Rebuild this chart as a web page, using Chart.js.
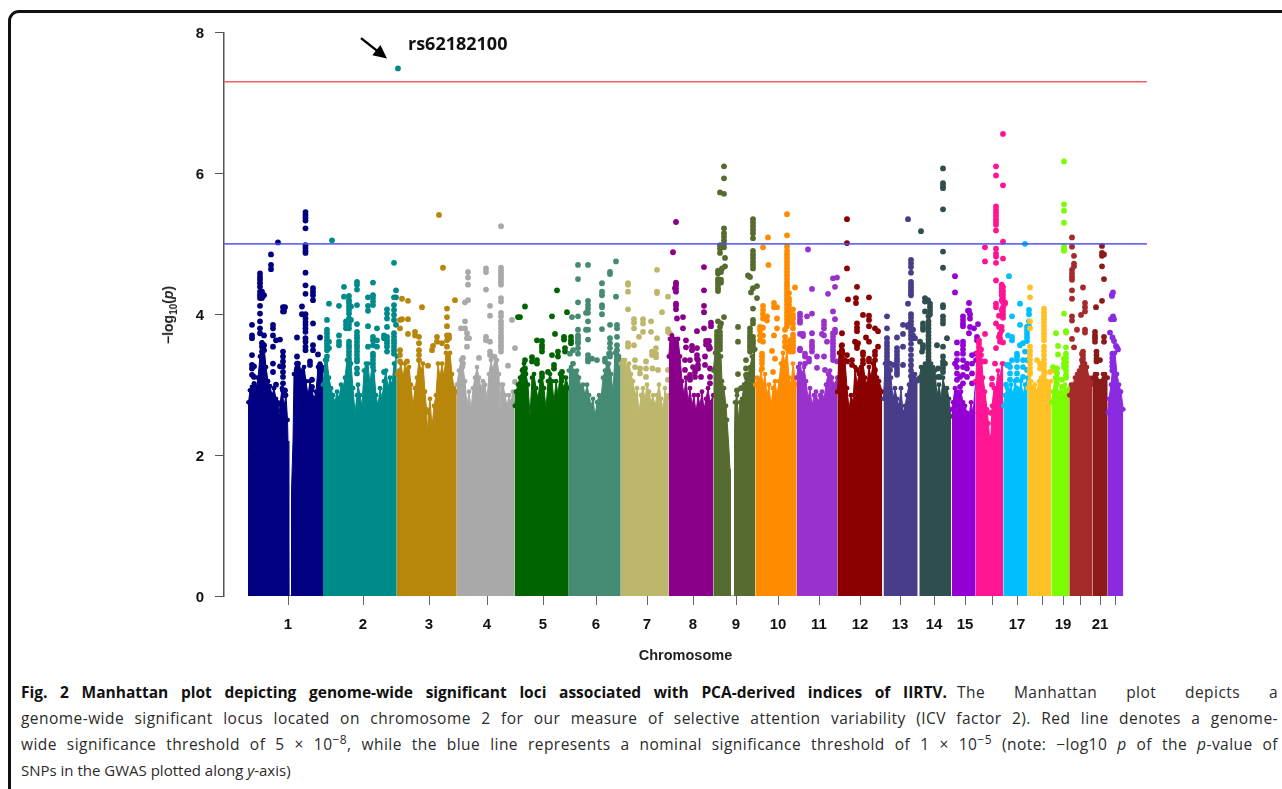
<!DOCTYPE html>
<html lang="en">

<head>
    <meta charset="UTF-8">
    <title>Manhattan plot</title>
    <style>
        html,
        body {
            margin: 0;
            width: 1282px;
            height: 789px;
            overflow: hidden;
            background: #fff;
        }

        #frame {
            position: absolute;
            left: 8px;
            top: 10px;
            width: 1320px;
            height: 860px;
            border: 3px solid #111;
            border-radius: 11px;
        }

        #canvas {
            position: absolute;
            left: 0;
            top: 0;
        }

        #ytitle {
            position: absolute;
            left: 168px;
            top: 315px;
            transform: translate(-50%, -50%) rotate(-90deg);
            font: bold 14px "Liberation Sans";
            color: #222;
            white-space: nowrap;
        }

        #ytitle sub {
            font-size: 10px;
            line-height: 0;
        }

        .cap {
            position: absolute;
            left: 21px;
            width: 1257px;
            font: 15.5px/20px "Open Sans";
            letter-spacing: 0.45px;
            color: #2b2b2b;
            white-space: nowrap;
            text-align: justify;
            text-align-last: justify;
        }

        .cap b {
            color: #111;
            letter-spacing: 0;
        }

        .cap sup {
            font-size: 12px;
            line-height: 0;
        }
    </style>
</head>

<body>
    <div id="frame"></div>
    <canvas id="canvas" width="1282" height="665"></canvas>
    <div id="ytitle">&minus;log<sub>10</sub>(<i>p</i>)</div>
    <div class="cap" style="top:682px;width:926px"><b>Fig. 2 Manhattan plot depicting genome-wide significant loci associated with PCA-derived indices of IIRTV.</b></div>
    <div class="cap" style="top:682px;left:957px;width:321px">The Manhattan plot depicts a</div>
    <div class="cap" style="top:708px">genome-wide significant locus located on chromosome 2 for our measure of selective attention variability (ICV factor 2). Red line denotes a genome-</div>
    <div class="cap" style="top:734px">wide significance threshold of 5 &times; 10<sup>&minus;8</sup>, while the blue line represents a nominal significance threshold of 1 &times; 10<sup>&minus;5</sup> (note: &minus;log10 <i>p</i> of the <i>p</i>-value of</div>
    <div class="cap" style="top:760px;text-align-last:left;letter-spacing:0;font-size:15px">SNPs in the GWAS plotted along <i>y</i>-axis)</div>

    <script src="https://cdnjs.cloudflare.com/ajax/libs/Chart.js/4.4.1/chart.umd.js"></script>

    <script>
        const chrColors = ['#000080', '#008B8B', '#B8860B', '#A9A9A9', '#006400', '#458B74', '#BDB76B', '#8B008B', '#556B2F', '#FF8C00', '#9932CC',
            '#8B0000', '#483D8B', '#2F4F4F', '#9400D3', '#FF1493', '#00BFFF', '#FFC125', '#7CFC00', '#A52A2A', '#8B1A1A', '#8A2BE2'];

        const chrTickPos = [288, 363, 429, 487, 543, 596, 647, 693, 736, 778, 819, 860, 900, 934, 965, 992, 1017, 1042, 1063, 1080, 1100, 1115];
        const chrTickLabels = ['1', '2', '3', '4', '5', '6', '7', '8', '9', '10', '11', '12', '13', '14', '15', '', '17', '', '19', '', '21', ''];

        const redLine = 7.3;
        const blueLine = 5;
        const leadSnp = 'rs62182100';
        const arrowFrom = [361, 7.92];
        const arrowTo = [387, 7.63];

        // solid part of each chromosome: x, y, x, y ...
        const chr1Top = [248, 2.0, 248.5, 2.75, 250, 2.92, 252, 2.97, 254, 3.02, 256, 2.95, 258, 3.1, 260, 3.4, 262, 3.6, 264, 3.55, 266, 3.25, 268, 3.05, 270, 2.98, 272, 2.85, 274, 2.95, 276, 2.8, 278, 2.75, 279, 2.55, 280, 2.72, 282, 2.95, 284, 2.7, 286, 2.85, 287.5, 2.5, 288, 2.2, 288.8, 0, 291, 0, 291.5, 1.5, 293, 2.2, 294, 3.15, 296, 3.2, 298, 3.2, 300, 3.05, 302, 3.2, 304, 3.25, 306, 3.05, 308, 2.85, 310, 3.05, 312, 2.92, 314, 2.8, 316, 2.9, 318, 3.25, 320, 3.3, 322, 3.25, 323, 3.2];
        const chr2Top = [323, 3.0, 325, 3.35, 327, 3.35, 329, 3.1, 331, 2.95, 333, 2.85, 335, 2.75, 337, 2.9, 339, 2.8, 341, 3.0, 343, 2.95, 345, 3.1, 347, 3.35, 349, 3.45, 351, 3.3, 353, 2.95, 355, 2.6, 357, 2.85, 358, 3.0, 360, 2.85, 362, 2.7, 364, 3.2, 366, 3.3, 368, 3.3, 370, 3.0, 372, 3.3, 374, 3.2, 376, 2.85, 378, 2.7, 380, 2.95, 382, 2.8, 384, 3.05, 386, 3.2, 388, 2.95, 390, 3.1, 392, 3.0, 394, 3.3, 396.8, 3.4];
        const chr3Top = [396.8, 3.15, 399, 3.2, 401, 3.3, 403, 3.1, 405, 3.3, 407, 3.2, 409, 3.25, 411, 3.0, 413, 2.7, 415, 2.95, 417, 3.1, 419, 3.35, 421, 3.2, 423, 3.3, 425, 2.9, 426.5, 2.65, 427.5, 2.3, 428.5, 2.6, 430, 2.8, 432, 2.4, 434, 2.7, 436, 2.85, 438, 3.3, 440, 3.1, 442, 3.3, 444, 3.1, 446, 3.45, 448, 3.4, 450, 3.45, 452, 3.15, 454, 2.95, 456.8, 2.9];
        const chr4Top = [456.8, 3.0, 459, 3.2, 461, 3.35, 463, 3.25, 465, 3.05, 467, 2.7, 469, 2.9, 471, 2.65, 473, 2.95, 475, 3.1, 477, 3.25, 479, 3.1, 481, 2.95, 483, 3.05, 485, 3.0, 487, 2.8, 489, 3.15, 491, 3.35, 493, 3.2, 495, 3.4, 497, 3.35, 499, 3.15, 500, 2.6, 501, 3.0, 503, 3.0, 505, 2.85, 507, 2.7, 509, 2.85, 511, 2.75, 513, 2.9, 514.8, 2.85];
        const chr5Top = [514.8, 2.7, 516, 2.9, 518, 3.0, 520, 3.1, 522, 3.2, 524, 3.3, 526, 3.15, 528, 3.0, 530, 2.55, 532, 3.1, 534, 3.15, 536, 2.95, 538, 2.8, 540, 3.05, 542, 3.15, 544, 2.95, 546, 2.65, 548, 3.05, 550, 3.15, 552, 3.05, 554, 2.75, 556, 3.05, 558, 2.85, 560, 3.15, 562, 3.05, 564, 2.95, 566, 3.1, 568.8, 2.95];
        const chr6Top = [568.8, 3.2, 571, 3.25, 573, 3.2, 575, 3.15, 577, 3.2, 579, 3.1, 581, 2.95, 583, 3.0, 585, 2.85, 587, 3.0, 589, 2.85, 591, 2.7, 593, 2.8, 595, 2.55, 597, 2.75, 599, 2.85, 601, 2.8, 603, 3.1, 605, 3.2, 607, 3.3, 609, 3.3, 611, 3.15, 613, 2.9, 615, 3.45, 617, 3.5, 619, 3.4, 620.8, 3.35];
        const chr7Top = [620.8, 3.3, 623, 3.35, 625, 3.35, 627, 3.25, 629, 3.3, 631, 3.15, 633, 3.05, 635, 2.85, 637, 2.95, 639, 2.6, 641, 2.85, 643, 2.95, 645, 2.8, 647, 3.0, 649, 2.9, 651, 2.75, 653, 2.85, 655, 2.7, 657, 2.85, 659, 3.0, 661, 2.8, 663, 2.65, 665, 2.95, 667, 2.8, 668.8, 2.85];
        const chr8Top = [668.8, 3.4, 670, 3.65, 672, 3.7, 674, 3.65, 676, 3.6, 678, 3.65, 680, 3.4, 682, 3.05, 684, 2.85, 686, 3.1, 688, 2.75, 690, 2.95, 692, 2.7, 694, 2.85, 696, 2.6, 698, 2.85, 700, 2.7, 702, 2.9, 704, 2.65, 706, 2.8, 708, 2.95, 710, 2.75, 713.3, 2.85];
        const chr9Top = [713.3, 3.2, 715, 3.45, 717, 3.55, 719, 3.5, 721, 3.4, 722, 3.05, 724, 2.95, 726, 2.7, 727, 2.5, 728.5, 2.2, 730, 1.8, 730.5, 0, 734, 0, 734.5, 2.3, 735, 2.75, 737, 2.85, 738.5, 2.5, 740, 2.75, 742, 2.8, 744, 3.0, 746, 3.1, 748, 3.15, 750, 3.25, 752, 3.4, 755.3, 3.5];
        const chr10Top = [755.3, 3.0, 757, 3.1, 759, 3.05, 761, 3.2, 763, 3.0, 765, 3.15, 767, 2.85, 769, 3.0, 771, 2.7, 773, 2.95, 775, 3.05, 777, 2.85, 779, 3.05, 781, 3.3, 783, 3.45, 785, 3.3, 787, 3.5, 789, 3.1, 791, 3.0, 793, 3.3, 795, 3.1, 796.7, 3.0];
        const chr11Top = [796.7, 3.1, 798, 3.25, 800, 3.3, 802, 3.15, 804, 3.25, 806, 3.05, 808, 2.8, 810, 2.95, 812, 2.7, 814, 2.85, 816, 2.9, 818, 2.75, 820, 2.85, 822, 2.9, 824, 2.8, 826, 3.0, 828, 3.15, 830, 3.2, 832, 3.1, 834, 3.0, 837.3, 3.1];
        const chr12Top = [837.3, 2.9, 839, 3.45, 841, 3.55, 843, 3.45, 845, 3.35, 847, 2.95, 849, 2.65, 851, 2.85, 853, 2.75, 855, 3.25, 857, 3.0, 859, 3.15, 861, 3.25, 863, 3.3, 865, 3.1, 867, 3.0, 869, 3.25, 871, 3.1, 873, 3.3, 875, 3.35, 877, 3.1, 879, 3.05, 882.3, 2.9];
        const chr13Top = [883.5, 2.8, 885, 3.3, 887, 3.4, 889, 3.15, 891, 3.1, 893, 2.8, 895, 2.95, 897, 2.8, 899, 2.7, 901, 2.95, 903, 2.6, 905, 2.7, 907, 2.85, 909, 3.0, 911, 3.25, 913, 3.15, 915, 3.15, 917.7, 3.05];
        const chr14Top = [919.3, 3.1, 921, 3.25, 923, 3.25, 925, 3.3, 927, 3.25, 929, 3.35, 931, 3.3, 933, 3.25, 935, 3.2, 937, 2.85, 939, 3.0, 941, 2.8, 943, 3.1, 945, 2.95, 947, 2.95, 949, 2.8, 951, 2.55];
        const chr15Top = [951.7, 2.65, 953, 2.75, 955, 2.95, 957, 2.9, 959, 2.85, 961, 2.9, 963, 2.75, 965, 2.7, 967, 2.6, 969, 2.55, 971, 2.75, 973, 2.6, 975.7, 3.05];
        const chr16Top = [975.7, 3.05, 977, 3.45, 979, 3.55, 981, 3.5, 983, 3.1, 985, 2.9, 987, 2.65, 988.5, 2.45, 989.5, 2.25, 991, 2.3, 992, 2.7, 994, 2.95, 996, 2.95, 998, 3.2, 1000, 3.1, 1002, 3.3, 1003.3, 3.3];
        const chr17Top = [1003.3, 2.7, 1005, 2.85, 1007, 2.95, 1009, 2.9, 1011, 3.0, 1013, 2.85, 1015, 3.05, 1017, 2.95, 1019, 2.9, 1021, 3.05, 1023, 2.85, 1025, 3.0, 1027.7, 3.1];
        const chr18Top = [1027.7, 2.95, 1029, 3.2, 1031, 3.05, 1033, 2.95, 1035, 3.0, 1037, 2.9, 1039, 3.05, 1041, 3.1, 1043, 3.1, 1045, 3.15, 1047, 3.05, 1049, 3.0, 1051.3, 3.05];
        const chr19Top = [1051.3, 2.75, 1053, 2.9, 1055, 3.1, 1057, 3.0, 1059, 2.85, 1061, 2.9, 1063, 2.85, 1065, 3.0, 1067, 2.9, 1069.3, 2.95];
        const chr20Top = [1069.3, 2.85, 1071, 3.0, 1073, 3.0, 1075, 3.1, 1077, 3.15, 1079, 3.2, 1081, 3.25, 1083, 3.3, 1085, 3.3, 1087, 3.25, 1089, 3.1, 1091, 3.05, 1092.7, 3.0];
        const chr21Top = [1092.7, 3.1, 1095, 3.15, 1097, 3.15, 1099, 3.05, 1101, 3.05, 1103, 3.15, 1105, 3.15, 1107.7, 3.1];
        const chr22Top = [1107.7, 2.6, 1109, 2.8, 1111, 3.0, 1113, 3.3, 1115, 3.45, 1117, 3.15, 1119, 3.0, 1121, 2.9, 1123.3, 2.65];

        // single SNPs above the solid part: [x, y1, y2, ...]
        const chr1Dots = [
            [252, 3.85, 3.7, 3.66, 3.42, 3.28, 3.23, 3.14], [254, 3.26, 3.11, 2.97],
            [260, 4.58, 4.53, 4.49, 4.44, 4.39, 4.32, 4.27, 4.23, 4.12, 4.01, 3.9, 3.8, 3.73],
            [262, 4.32, 4.27, 4.23, 3.59, 3.54, 3.47, 3.4, 3.33, 3.26], [264, 4.27, 3.7, 3.56, 3.49],
            [271, 4.85, 4.7, 4.64], [273, 3.85, 3.8, 3.7, 3.54, 3.3, 3.18], [276, 3.63, 3.0], [278, 5.02], [280, 3.64, 3.26],
            [283, 4.1, 4.04, 3.47, 3.4, 3.33, 3.26, 3.18, 3.11, 3.02, 2.92], [285, 4.1, 2.92, 2.85],
            [305.5, 5.45, 5.41, 5.37, 5.33, 5.22, 4.98, 4.94, 4.9, 4.87, 4.59, 4.41, 4.29, 4.0, 3.94, 3.89, 3.85, 3.8, 3.75, 3.66, 3.61, 3.54, 3.49],
            [302, 4.11, 4.0, 3.18, 3.11], [297, 3.67, 3.4, 3.3, 3.23], [298, 3.3, 3.23, 3.16],
            [313, 4.37, 4.32, 4.27, 4.2, 3.87, 3.56, 3.49], [284, 4.09, 4.04], [310, 3.33, 3.28], [318, 3.43], [320, 3.67, 3.28, 3.21, 3.14], [312, 3.07, 2.97]
        ];
        const chr2Dots = [
            [332, 5.05], [327, 3.92, 3.78, 3.73, 3.68, 3.63, 3.59, 3.54, 3.49, 3.4], [329, 4.15, 3.61, 3.52], [339, 4.12, 3.7, 3.61, 3.56], [344, 4.39, 4.25],
            [349, 4.26, 4.2, 4.16, 4.11, 4.06, 4.01, 3.94, 3.9, 3.85, 3.8, 3.61, 3.56, 3.52, 3.47, 3.42, 3.37, 3.33, 3.28], [346, 3.9, 3.85, 3.8], [351, 4.11, 3.92],
            [357, 4.46, 4.42, 4.35, 4.13, 3.86, 3.75, 3.7, 3.66, 3.61, 3.56, 3.52, 3.47, 3.42, 3.37, 3.33, 3.23, 3.16],
            [368, 4.24, 4.12, 4.05, 3.83, 3.54], [373, 4.45, 4.27, 4.23, 4.18, 4.13, 3.68, 3.63, 3.56, 3.44, 3.4, 3.35, 3.3, 3.25], [377, 3.8, 3.63, 3.54],
            [387, 4.07, 4.01, 3.94, 3.82, 3.68, 3.63, 3.59, 3.54, 3.47], [394, 4.73, 4.24, 4.13, 4.06, 3.99, 3.92, 3.73, 3.68, 3.63, 3.59, 3.54, 3.49, 3.44],
            [398, 7.49], [396, 4.34, 4.24, 3.85], [384, 3.7, 3.66, 3.18]
        ];
        const chr3Dots = [
            [439, 5.41], [443, 4.66], [402, 4.22, 3.93], [408, 4.19, 3.93, 3.72], [400, 3.92, 3.8, 3.49, 3.42, 3.33], [422, 4.1], [415, 3.75, 3.7], [419, 3.68, 3.59, 3.49, 3.42, 3.35], [407, 3.33], [428, 3.27],
            [432, 3.49], [437, 3.68, 3.61], [447, 4.08, 3.96, 3.83, 3.7, 3.63, 3.54], [455, 4.2], [449, 3.7, 3.66], [442, 3.59], [433, 3.55]
        ];
        const chr4Dots = [
            [501, 5.25, 4.66, 4.62, 4.58, 4.54, 4.5, 4.46, 4.42, 4.23, 4.18, 4.02, 3.97, 3.9, 3.85, 3.8, 3.75, 3.7, 3.66, 3.61, 3.56, 3.52, 3.47],
            [468, 4.6, 4.52, 4.42, 4.2], [465, 4.17, 3.9, 3.8], [467, 3.73, 3.66, 3.54], [469, 3.66], [461, 3.8], [486, 4.65, 4.6, 4.35, 3.68, 3.63], [490, 4.12, 3.98, 3.61, 3.47, 3.42],
            [479, 3.38], [493, 3.4], [512, 3.92], [515, 3.52, 3.04], [508, 3.27], [463, 3.38, 3.3]
        ];
        const chr5Dots = [
            [525, 4.11, 3.35, 3.23, 3.16], [520, 3.96], [518, 3.96], [557, 4.34], [552, 3.97, 3.42], [567, 4.03], [555, 3.72], [537, 3.63, 3.35, 3.3], [542, 3.62, 3.56, 3.52, 3.47, 3.16, 3.11],
            [564, 3.68, 3.64], [571, 3.68, 3.63, 3.59], [565, 3.52, 3.47], [558, 3.47, 3.4], [532, 3.39, 3.33], [554, 3.28, 3.23], [548, 3.18], [562, 3.18, 3.11], [523, 3.21]
        ];
        const chr6Dots = [
            [578, 4.7, 4.5, 4.17, 3.97, 3.78, 3.7, 3.66, 3.61, 3.59, 3.52, 3.44], [588, 4.7, 4.19, 4.13, 4.08, 4.02, 3.9, 3.78, 3.64, 3.42, 3.37, 3.33], [616, 4.75, 4.25],
            [610, 4.6, 4.57, 3.85, 3.66, 3.59, 3.52, 3.44, 3.4], [602, 4.44, 4.32, 4.27, 4.13, 4.1, 4.0, 3.79], [572, 3.96], [586, 4.02, 3.78], [617, 3.85, 3.8, 3.68, 3.56, 3.49, 3.42, 3.35],
            [573, 3.49, 3.3], [592, 3.37], [597, 3.35], [605, 3.37, 3.33], [609, 3.44], [570, 3.44]
        ];
        const chr7Dots = [
            [628, 4.44, 4.42, 4.32, 4.07, 3.59, 3.54], [657, 4.63, 4.32, 4.3, 3.66], [668, 4.25, 3.79, 3.75], [662, 4.03], [634, 3.93, 3.88, 3.8, 3.56], [643, 3.93, 3.87, 3.75], [651, 3.9, 3.75],
            [639, 3.68], [670, 3.73], [652, 3.47, 3.42], [656, 3.52, 3.44, 3.39], [646, 3.33, 3.23, 3.11], [652.5, 3.23], [635, 3.35, 3.25], [640, 3.23, 3.16], [658, 3.21], [668, 3.21, 3.07]
        ];
        const chr8Dots = [
            [673, 4.88], [676, 5.31, 4.45, 4.42, 4.37, 4.32, 4.15, 4.12, 4.07], [675, 4.37], [704, 4.67, 4.34, 4.12, 4.03, 3.8], [683, 3.96, 3.8], [677, 3.94], [697, 3.76], [711, 3.88, 3.83],
            [706, 3.62, 3.57], [709, 3.62, 3.55, 3.51], [686, 3.63, 3.53], [692, 3.55, 3.49], [697, 3.52, 3.42, 3.37], [690, 3.35], [698, 3.35, 3.28, 3.23], [693, 3.25], [685, 3.35, 3.21], [705, 3.4, 3.28], [710, 3.52, 3.23, 3.11, 3.02], [695, 3.18, 3.11], [701, 3.11], [690, 3.14, 3.07]
        ];
        const chr9Dots = [
            [724, 6.1, 5.93, 5.71, 5.22, 5.15, 5.1, 5.05, 5.0, 4.95, 3.96], [720, 5.73, 4.98, 4.93, 4.87, 3.82], [725, 4.8, 4.68], [718, 4.62, 4.58, 4.5, 4.46, 4.42, 4.37, 4.33, 3.9], [721, 4.6, 4.49, 4.45, 3.87], [722, 4.65],
            [717, 3.75, 3.7, 3.65, 3.6, 3.55, 3.5], [720, 3.75, 3.7, 3.65, 3.6, 3.55, 3.5],
            [753, 5.35, 5.3, 5.25, 5.2, 5.15, 5.08, 4.9, 4.85, 4.8, 4.75, 4.7, 4.65, 4.37, 4.08, 3.92, 3.87, 3.68, 3.63, 3.59, 3.54, 3.49], [748, 4.55], [750, 4.53, 3.8, 3.75, 3.7, 3.66, 3.61, 3.56, 3.52, 3.47], [757, 4.4, 4.23], [751, 4.31],
            [738, 3.82, 3.61, 3.15], [746, 3.35, 3.23, 3.14], [737, 2.92], [741, 2.95]
        ];
        const chr10Dots = [
            [787, 5.42, 5.12, 4.96, 4.9, 4.85, 4.8, 4.75, 4.7, 4.65, 4.6, 4.55, 4.5, 4.45, 4.41, 4.37, 4.32, 4.27, 4.22, 4.18, 4.13, 4.08, 4.03, 3.98, 3.93, 3.88, 3.83], [789, 4.3, 4.22, 4.18, 4.13, 4.08, 4.03, 3.98, 3.93, 3.88],
            [795, 4.38], [793, 4.07, 3.99, 3.94, 3.87, 3.8, 3.71, 3.66, 3.61, 3.56, 3.52, 3.47], [768, 5.09], [763, 4.95, 4.12, 4.06, 4.0, 3.94, 3.81, 3.7, 3.61], [768.5, 4.7],
            [774, 4.16, 4.1, 3.7], [777, 4.1, 3.94, 3.8], [767, 3.97, 3.91], [760, 3.82, 3.77, 3.7, 3.63], [772, 3.48], [762, 3.44, 3.4, 3.35, 3.3, 3.23], [775, 3.37], [773, 3.18],
            [785, 3.78, 3.68, 3.61, 3.54], [790, 3.63, 3.56, 3.52, 3.47]
        ];
        const chr11Dots = [
            [808, 4.92], [812, 4.36, 4.01, 3.73, 3.61, 3.56, 3.52, 3.47], [807, 3.97], [800, 4.01, 3.97, 3.92, 3.88, 3.72, 3.51, 3.49], [803, 3.72, 3.69],
            [824, 3.9, 3.85, 3.8, 3.7, 3.4], [822, 3.72], [827, 3.61], [828, 4.29], [833, 4.51, 4.04, 3.73, 3.68, 3.63, 3.59, 3.54, 3.49, 3.44, 3.4, 3.35], [837, 4.52, 3.33], [835, 4.39, 3.93, 3.78, 3.74],
            [817, 3.4, 3.24], [805, 3.44, 3.4, 3.3], [809, 3.37, 3.33], [825, 3.21]
        ];
        const chr12Dots = [
            [847, 5.35, 5.01, 4.65], [857, 4.39, 3.87, 3.81, 3.76, 3.56, 3.52, 3.21], [848, 4.21], [856, 4.23, 4.16], [869, 4.24, 3.98, 3.92, 3.83, 3.61, 3.37, 3.33], [863, 3.99, 3.46, 3.42, 3.35, 3.3],
            [875, 3.8, 3.47, 3.42, 3.35, 3.21], [878, 3.76, 3.54], [842, 3.73, 3.56, 3.49], [866, 3.67], [855, 3.61], [858, 3.59], [852, 3.35, 3.28], [847, 3.42, 3.33]
        ];
        const chr13Dots = [
            [908, 5.35, 4.15, 3.85, 3.82], [911, 4.77, 4.72, 4.67, 4.59, 4.46, 4.42, 4.38, 4.34, 4.3, 4.27, 4.0, 3.95, 3.9, 3.85, 3.8, 3.75, 3.7, 3.65, 3.58, 3.5, 3.42, 3.35, 3.28, 3.2, 3.12],
            [887, 3.97, 3.8, 3.66, 3.6, 3.55, 3.5, 3.45, 3.4, 3.35, 3.3, 3.25, 3.2, 3.15, 3.1], [897, 3.67, 3.52, 3.47, 3.42, 3.37, 3.33, 3.28, 3.23, 3.18, 3.14], [903, 3.85, 3.72, 3.54, 3.28], [913, 3.78, 3.7, 3.66], [915, 3.66], [893, 3.28], [890, 3.3, 3.21]
        ];
        const chr14Dots = [
            [943, 6.07, 5.86, 5.82, 5.79, 5.49, 4.89, 4.66, 4.13, 4.1, 3.97, 3.92, 3.87, 3.54, 3.4, 3.33, 3.28, 3.23, 3.18], [921, 5.18], [925, 4.23, 4.18, 4.04], [928, 4.2], [930, 4.15, 4.1, 4.05, 4.0],
            [928.5, 3.97, 3.9, 3.85, 3.8, 3.75, 3.7, 3.65, 3.6, 3.55, 3.5, 3.45, 3.4, 3.35, 3.3], [923, 3.87, 3.82, 3.78, 3.56, 3.52], [920, 3.61], [922, 3.47], [947, 3.66], [937, 3.56], [938, 3.23, 3.11], [945, 3.3], [940, 3.11]
        ];
        const chr15Dots = [
            [955, 4.54, 4.31, 3.3], [969, 4.16, 4.05, 3.73], [968, 4.05], [963, 3.97, 3.92, 3.87, 3.83, 3.61, 3.56, 3.5, 3.44, 3.35, 3.25, 3.14, 3.02], [970, 4.0, 3.94, 3.82], [978, 3.86], [974, 3.8], [977, 3.68, 3.63],
            [957, 3.6, 3.44, 3.35, 3.25, 3.16, 3.07], [967, 3.3, 3.23, 3.11], [972, 3.42, 3.3, 3.16, 3.02], [976, 3.44, 3.35], [960, 3.11, 2.97]
        ];
        const chr16Dots = [
            [1003, 6.56, 5.83, 5.03, 4.79, 4.39, 4.33, 4.28, 4.23, 4.17, 4.1, 4.05, 4.0, 3.95, 3.6], [996, 6.1, 5.97, 5.53, 5.48, 5.44, 5.4, 5.35, 5.31, 5.27, 5.19, 4.93, 4.86, 4.82, 4.73, 4.48, 4.15, 4.1, 3.87, 3.52],
            [985, 4.95, 4.75, 3.72], [1001.7, 4.42, 4.37, 4.32, 4.27, 4.2, 4.06, 3.99, 3.82, 3.77], [1005, 4.17, 4.15], [999, 3.98, 3.82, 3.68], [1000, 3.72, 3.66, 3.61], [979, 3.63, 3.58, 3.53, 3.48, 3.43, 3.38], [981, 3.5, 3.42], [992, 3.09, 3.0], [995, 3.3], [990.7, 2.6], [985, 3.33], [982, 3.33]
        ];
        const chr17Dots = [
            [1025, 5.0], [1009, 4.54, 3.28], [1020, 4.15, 3.85, 3.56], [1029, 4.06, 4.0, 3.9, 3.83], [1012, 3.97, 3.68, 3.63, 3.35], [1027, 3.82, 3.77, 3.72, 3.67, 3.62], [1008, 3.7], [1023, 3.59, 3.35, 3.25, 3.11], [1017, 3.44, 3.4, 3.35, 3.25, 3.16, 3.07], [1025, 3.47], [1007, 3.28], [1006, 3.0], [1010, 3.25, 3.16, 3.07], [1027, 3.35, 3.21]
        ];
        const chr18Dots = [
            [1030, 4.38, 4.24, 3.9, 3.8, 3.54, 3.48, 3.42, 3.36, 3.3, 3.24, 3.18, 3.15], [1044, 4.08, 4.03, 3.98, 3.93, 3.88, 3.83, 3.78, 3.73, 3.68, 3.63, 3.54, 3.48, 3.42, 3.36, 3.3, 3.25, 3.2, 3.15], [1037, 3.35], [1040, 3.3, 3.23], [1050, 3.18], [1053, 3.2]
        ];
        const chr19Dots = [
            [1064, 6.17, 5.56, 5.47, 5.3, 4.96, 4.92, 4.9, 4.01, 3.37, 3.3, 3.25], [1056, 3.73], [1066, 3.76, 3.74, 3.53, 3.44, 3.38, 3.32, 3.26, 3.2, 3.14, 3.1], [1058, 3.55, 3.43], [1065, 3.37, 3.3], [1053, 3.25], [1057, 3.23, 3.16, 3.09, 3.02], [1062, 3.07, 2.97]
        ];
        const chr20Dots = [
            [1072, 5.09, 4.96, 4.34, 4.22, 3.97, 3.91, 3.65], [1074, 4.83, 4.72, 4.68, 3.53], [1072, 4.63, 4.58, 4.53, 4.49], [1083, 4.38, 3.47, 3.42, 3.37, 3.32, 3.27, 3.22], [1085, 4.16, 4.1, 4.04, 3.78, 3.74], [1081, 3.99], [1077, 3.78], [1082, 3.44, 3.35]
        ];
        const chr21Dots = [
            [1102, 4.97, 4.87, 4.83, 4.68, 4.19], [1104, 4.85, 4.5, 3.68, 3.61], [1096, 4.1], [1095, 3.75, 3.7, 3.66, 3.61], [1096.5, 3.47, 3.42, 3.37, 3.33], [1100, 3.35]
        ];
        const chr22Dots = [
            [1113, 4.31, 3.97], [1112, 4.28, 4.26], [1111, 3.93], [1110, 3.74], [1112.5, 3.67], [1114, 3.62, 3.93], [1116, 3.55], [1117, 3.53], [1118, 3.5], [1112.3, 3.44, 3.38, 3.32, 3.26, 3.2]
        ];

        const chrTops = [chr1Top, chr2Top, chr3Top, chr4Top, chr5Top, chr6Top, chr7Top, chr8Top, chr9Top, chr10Top, chr11Top, chr12Top, chr13Top, chr14Top, chr15Top, chr16Top, chr17Top, chr18Top, chr19Top, chr20Top, chr21Top, chr22Top];
        const chrDots = [chr1Dots, chr2Dots, chr3Dots, chr4Dots, chr5Dots, chr6Dots, chr7Dots, chr8Dots, chr9Dots, chr10Dots, chr11Dots, chr12Dots, chr13Dots, chr14Dots, chr15Dots, chr16Dots, chr17Dots, chr18Dots, chr19Dots, chr20Dots, chr21Dots, chr22Dots];

        const xMin = 224;
        const xMax = 1147;

        function topPoints(flat) {
            const pts = [];
            for (let i = 0; i < flat.length; i += 2) {
                pts.push({ x: flat[i], y: flat[i + 1] });
            }
            return pts;
        }

        function dotPoints(columns) {
            const pts = [];
            columns.forEach((col) => {
                col.slice(1).forEach((y) => pts.push({ x: col[0], y: y }));
            });
            return pts;
        }

        const datasets = [
            { label: 'genome-wide', data: [{ x: xMin, y: redLine }, { x: xMax, y: redLine }], borderColor: '#f26060', borderWidth: 1.6, pointRadius: 0, order: 0 },
            { label: 'nominal', data: [{ x: xMin, y: blueLine }, { x: xMax, y: blueLine }], borderColor: 'rgba(80,80,240,0.85)', borderWidth: 1.8, pointRadius: 0, order: 0 }
        ];

        chrColors.forEach((color, i) => {
            datasets.push({
                label: 'chr' + (i + 1) + ' dots',
                data: dotPoints(chrDots[i]),
                showLine: false,
                backgroundColor: color,
                pointRadius: 2.9,
                pointBorderWidth: 0,
                order: 50 - i
            });
            datasets.push({
                label: 'chr' + (i + 1),
                data: topPoints(chrTops[i]),
                fill: 'origin',
                backgroundColor: color,
                borderColor: color,
                borderWidth: 1,
                pointBackgroundColor: color,
                pointBorderWidth: 0,
                pointRadius: (ctx) => (ctx.raw.y < 2.4 ? 0 : 2.4),
                order: 50 - i
            });
        });

        // arrow and SNP name above the top hit
        const leadLabel = {
            id: 'leadLabel',
            afterDatasetsDraw(chart) {
                const { ctx, scales: { x, y } } = chart;
                const x0 = x.getPixelForValue(arrowFrom[0]);
                const y0 = y.getPixelForValue(arrowFrom[1]);
                const x1 = x.getPixelForValue(arrowTo[0]);
                const y1 = y.getPixelForValue(arrowTo[1]);
                const a = Math.atan2(y1 - y0, x1 - x0);
                ctx.save();
                ctx.strokeStyle = '#000';
                ctx.fillStyle = '#000';
                ctx.lineWidth = 2.5;
                ctx.beginPath();
                ctx.moveTo(x0, y0);
                ctx.lineTo(x1 - 8 * Math.cos(a), y1 - 8 * Math.sin(a));
                ctx.stroke();
                ctx.beginPath();
                ctx.moveTo(x1, y1);
                ctx.lineTo(x1 - 15 * Math.cos(a - 0.45), y1 - 15 * Math.sin(a - 0.45));
                ctx.lineTo(x1 - 15 * Math.cos(a + 0.45), y1 - 15 * Math.sin(a + 0.45));
                ctx.closePath();
                ctx.fill();
                ctx.font = 'bold 18px "Open Sans"';
                ctx.textBaseline = 'middle';
                ctx.fillStyle = '#111';
                ctx.fillText(leadSnp, x.getPixelForValue(408), y.getPixelForValue(7.82));
                ctx.restore();
            }
        };

        new Chart(document.querySelector('#canvas'), {
            type: 'line',
            data: { datasets: datasets },
            plugins: [leadLabel],
            options: {
                responsive: false,
                animation: false,
                layout: { padding: { left: 0, right: 135, top: 32.5, bottom: 0 } },
                plugins: { legend: { display: false }, tooltip: { enabled: false } },
                scales: {
                    x: {
                        type: 'linear',
                        min: xMin,
                        max: xMax,
                        afterFit: (s) => { s.height = 69; },
                        afterBuildTicks: (s) => { s.ticks = chrTickPos.map((v) => ({ value: v })); },
                        border: { display: false },
                        grid: { drawOnChartArea: false, color: '#666', tickLength: 9 },
                        ticks: {
                            autoSkip: false,
                            maxRotation: 0,
                            padding: 11,
                            color: '#111',
                            font: { family: 'Liberation Sans', size: 15, weight: 'bold' },
                            callback: (v, i) => chrTickLabels[i]
                        },
                        title: {
                            display: true,
                            text: 'Chromosome',
                            color: '#222',
                            padding: { top: 6, bottom: 0 },
                            font: { family: 'Liberation Sans', size: 14.5, weight: 'bold' }
                        }
                    },
                    y: {
                        min: 0,
                        max: 8,
                        afterFit: (s) => { s.width = 224; },
                        border: { display: true, color: '#555', width: 1.5 },
                        grid: { drawOnChartArea: false, color: '#555', tickLength: 9 },
                        ticks: {
                            stepSize: 2,
                            padding: 11,
                            labelOffset: 1.5,
                            color: '#111',
                            font: { family: 'Liberation Sans', size: 15, weight: 'bold' }
                        }
                    }
                }
            }
        });
    </script>
</body>

</html>
